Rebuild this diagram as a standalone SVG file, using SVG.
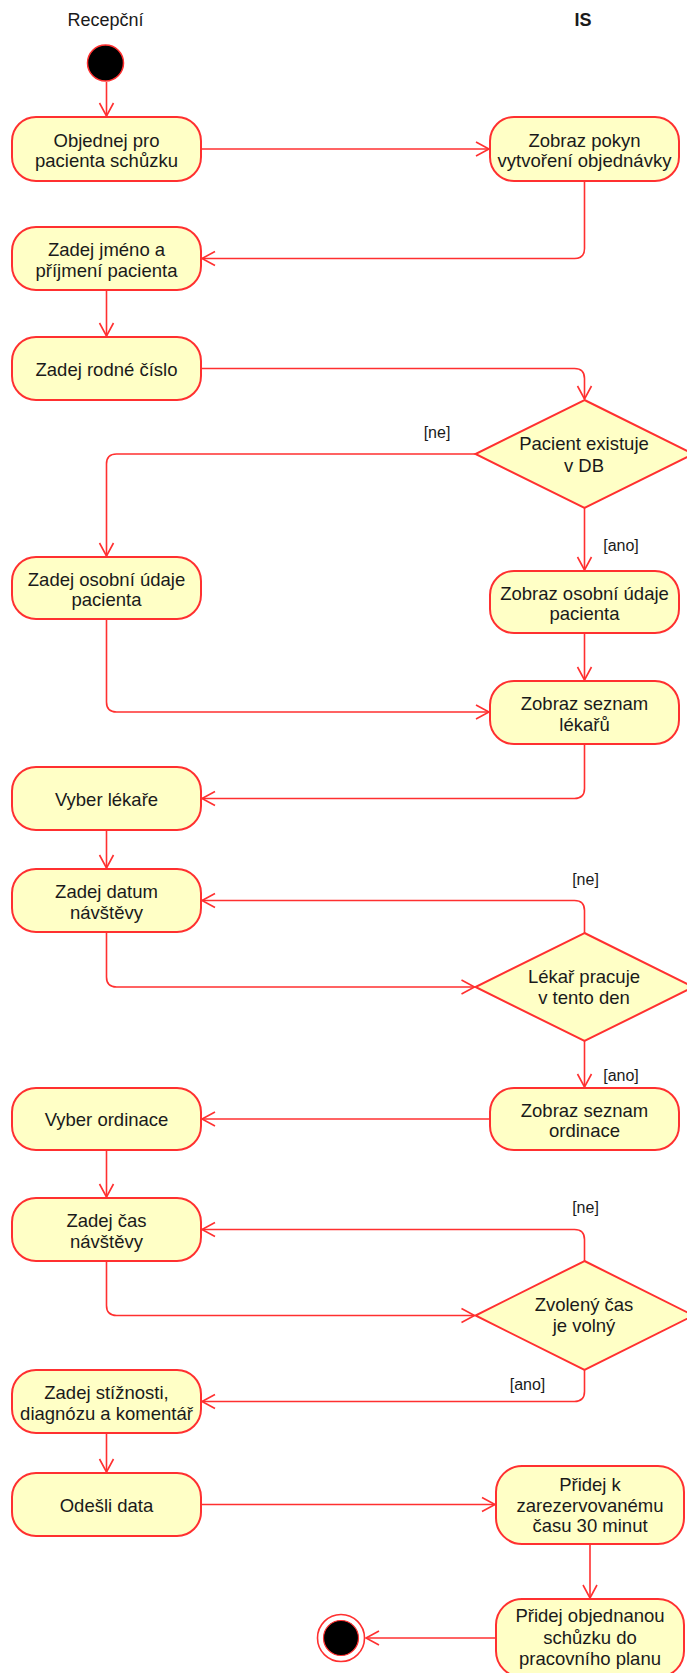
<svg xmlns="http://www.w3.org/2000/svg" width="687" height="1673" viewBox="0 0 687 1673">
  <style>
    .act { fill: #FFFFC6; stroke: #FF3030; stroke-width: 2; }
    .dec { fill: #FFFFC6; stroke: #FF3030; stroke-width: 2; }
    .flow { fill: none; stroke: #FF3030; stroke-width: 1.6; marker-end: url(#arrow); }
    .t { font-family: "Liberation Sans", Arial, sans-serif; font-size: 18.5px; fill: #1a1a1a; text-anchor: middle; }
    .lbl { font-family: "Liberation Sans", Arial, sans-serif; font-size: 16px; fill: #1a1a1a; text-anchor: middle; }
    .hdr { font-family: "Liberation Sans", Arial, sans-serif; font-size: 18px; fill: #1a1a1a; text-anchor: middle; }
  </style>
  <defs>
    <marker id="arrow" markerUnits="userSpaceOnUse" viewBox="-15 -9 17 18" refX="0" refY="0" markerWidth="17" markerHeight="18" orient="auto">
      <path d="M-13,-7 L0,0 L-13,7" fill="none" stroke="#FF3030" stroke-width="1.6"/>
    </marker>
  </defs>
  <rect width="687" height="1673" fill="#ffffff"/>

  <!-- swimlane headers -->
  <g id="lane-recepcni"><text class="hdr" x="105.5" y="26">Recepční</text></g>
  <g id="lane-is"><text class="hdr" x="583" y="26" font-weight="bold">IS</text></g>

  <!-- connectors -->
  <g id="connectors">
    <path class="flow" d="M106.5,82 L106.5,116"/>
    <path class="flow" d="M201,149 L489,149"/>
    <path class="flow" d="M584.5,181 L584.5,248.5 Q584.5,258.5 574.5,258.5 L202,258.5"/>
    <path class="flow" d="M106.5,290 L106.5,336"/>
    <path class="flow" d="M201,368.5 L574.5,368.5 Q584.5,368.5 584.5,378.5 L584.5,399"/>
    <path class="flow" d="M475.5,454 L116.5,454 Q106.5,454 106.5,464 L106.5,556"/>
    <path class="flow" d="M584.5,508 L584.5,570"/>
    <path class="flow" d="M106.5,619 L106.5,702 Q106.5,712 116.5,712 L489,712"/>
    <path class="flow" d="M584.5,633 L584.5,680"/>
    <path class="flow" d="M584.5,744 L584.5,788.5 Q584.5,798.5 574.5,798.5 L202,798.5"/>
    <path class="flow" d="M106.5,830 L106.5,868"/>
    <path class="flow" d="M584.5,933 L584.5,910.5 Q584.5,900.5 574.5,900.5 L202,900.5"/>
    <path class="flow" d="M106.5,932 L106.5,977 Q106.5,987 116.5,987 L474.5,987"/>
    <path class="flow" d="M584.5,1041 L584.5,1087"/>
    <path class="flow" d="M490,1119 L202,1119"/>
    <path class="flow" d="M106.5,1150 L106.5,1197"/>
    <path class="flow" d="M584.5,1261 L584.5,1239.5 Q584.5,1229.5 574.5,1229.5 L202,1229.5"/>
    <path class="flow" d="M106.5,1261 L106.5,1305.5 Q106.5,1315.5 116.5,1315.5 L474.5,1315.5"/>
    <path class="flow" d="M584.5,1370 L584.5,1391.5 Q584.5,1401.5 574.5,1401.5 L202,1401.5"/>
    <path class="flow" d="M106.5,1433 L106.5,1472"/>
    <path class="flow" d="M201,1504.5 L495,1504.5"/>
    <path class="flow" d="M590,1544 L590,1598"/>
    <path class="flow" d="M496,1638 L366,1638"/>

    <text class="lbl" x="437" y="438">[ne]</text>
    <text class="lbl" x="621" y="551">[ano]</text>
    <text class="lbl" x="585.5" y="885">[ne]</text>
    <text class="lbl" x="621" y="1081">[ano]</text>
    <text class="lbl" x="585.5" y="1213">[ne]</text>
    <text class="lbl" x="527.5" y="1390">[ano]</text>
  </g>

  <!-- start / end -->
  <g id="start"><circle cx="105.5" cy="63" r="18" fill="#000" stroke="#FF3030" stroke-width="1.5"/></g>
  <g id="end">
    <circle cx="341" cy="1638" r="23.5" fill="#fff" stroke="#FF3030" stroke-width="1.6"/>
    <circle cx="341" cy="1638" r="17.5" fill="#000" stroke="#FF3030" stroke-width="1.2"/>
  </g>

  <!-- actions -->
  <g id="objednej">
    <rect class="act" x="12" y="117" width="189" height="64" rx="24"/>
    <text class="t" x="106.5" y="146.5">Objednej pro</text>
    <text class="t" x="106.5" y="167">pacienta schůzku</text>
  </g>
  <g id="zobraz-pokyn">
    <rect class="act" x="490" y="117" width="189" height="64" rx="24"/>
    <text class="t" x="584.5" y="146.5">Zobraz pokyn</text>
    <text class="t" x="584.5" y="167">vytvoření objednávky</text>
  </g>
  <g id="zadej-jmeno">
    <rect class="act" x="12" y="227" width="189" height="63" rx="24"/>
    <text class="t" x="106.5" y="256">Zadej jméno a</text>
    <text class="t" x="106.5" y="276.5">příjmení pacienta</text>
  </g>
  <g id="zadej-rc">
    <rect class="act" x="12" y="337" width="189" height="63" rx="24"/>
    <text class="t" x="106.5" y="375.5">Zadej rodné číslo</text>
  </g>
  <g id="pacient-existuje">
    <polygon class="dec" points="584.5,400 693.5,454 584.5,508 475.5,454"/>
    <text class="t" x="584" y="450">Pacient existuje</text>
    <text class="t" x="584" y="472">v DB</text>
  </g>
  <g id="zadej-udaje">
    <rect class="act" x="12" y="557" width="189" height="62" rx="24"/>
    <text class="t" x="106.5" y="585.5">Zadej osobní údaje</text>
    <text class="t" x="106.5" y="606">pacienta</text>
  </g>
  <g id="zobraz-udaje">
    <rect class="act" x="490" y="571" width="189" height="62" rx="24"/>
    <text class="t" x="584.5" y="599.5">Zobraz osobní údaje</text>
    <text class="t" x="584.5" y="620">pacienta</text>
  </g>
  <g id="zobraz-lekare">
    <rect class="act" x="490" y="681" width="189" height="63" rx="24"/>
    <text class="t" x="584.5" y="710">Zobraz seznam</text>
    <text class="t" x="584.5" y="730.5">lékařů</text>
  </g>
  <g id="vyber-lekare">
    <rect class="act" x="12" y="767" width="189" height="63" rx="24"/>
    <text class="t" x="106.5" y="805.5">Vyber lékaře</text>
  </g>
  <g id="zadej-datum">
    <rect class="act" x="12" y="869" width="189" height="63" rx="24"/>
    <text class="t" x="106.5" y="898">Zadej datum</text>
    <text class="t" x="106.5" y="918.5">návštěvy</text>
  </g>
  <g id="lekar-pracuje">
    <polygon class="dec" points="584.5,933 693.5,987 584.5,1041 475.5,987"/>
    <text class="t" x="584" y="983">Lékař pracuje</text>
    <text class="t" x="584" y="1004">v tento den</text>
  </g>
  <g id="zobraz-ordinace">
    <rect class="act" x="490" y="1088" width="189" height="62" rx="24"/>
    <text class="t" x="584.5" y="1116.5">Zobraz seznam</text>
    <text class="t" x="584.5" y="1137">ordinace</text>
  </g>
  <g id="vyber-ordinace">
    <rect class="act" x="12" y="1088" width="189" height="62" rx="24"/>
    <text class="t" x="106.5" y="1126">Vyber ordinace</text>
  </g>
  <g id="zadej-cas">
    <rect class="act" x="12" y="1198" width="189" height="63" rx="24"/>
    <text class="t" x="106.5" y="1227">Zadej čas</text>
    <text class="t" x="106.5" y="1247.5">návštěvy</text>
  </g>
  <g id="cas-volny">
    <polygon class="dec" points="584.5,1261 693.5,1315.5 584.5,1370 475.5,1315.5"/>
    <text class="t" x="584" y="1311">Zvolený čas</text>
    <text class="t" x="584" y="1332">je volný</text>
  </g>
  <g id="zadej-stiznosti">
    <rect class="act" x="12" y="1370" width="189" height="63" rx="24"/>
    <text class="t" x="106.5" y="1399">Zadej stížnosti,</text>
    <text class="t" x="106.5" y="1419.5">diagnózu a komentář</text>
  </g>
  <g id="odesli">
    <rect class="act" x="12" y="1473" width="189" height="63" rx="24"/>
    <text class="t" x="106.5" y="1511.5">Odešli data</text>
  </g>
  <g id="pridej-cas">
    <rect class="act" x="496" y="1466" width="188" height="78" rx="26"/>
    <text class="t" x="590" y="1491">Přidej k</text>
    <text class="t" x="590" y="1511.5">zarezervovanému</text>
    <text class="t" x="590" y="1532">času 30 minut</text>
  </g>
  <g id="pridej-schuzku">
    <rect class="act" x="496" y="1599" width="188" height="78" rx="26"/>
    <text class="t" x="590" y="1622">Přidej objednanou</text>
    <text class="t" x="590" y="1643.5">schůzku do</text>
    <text class="t" x="590" y="1665">pracovního planu</text>
  </g>
</svg>
